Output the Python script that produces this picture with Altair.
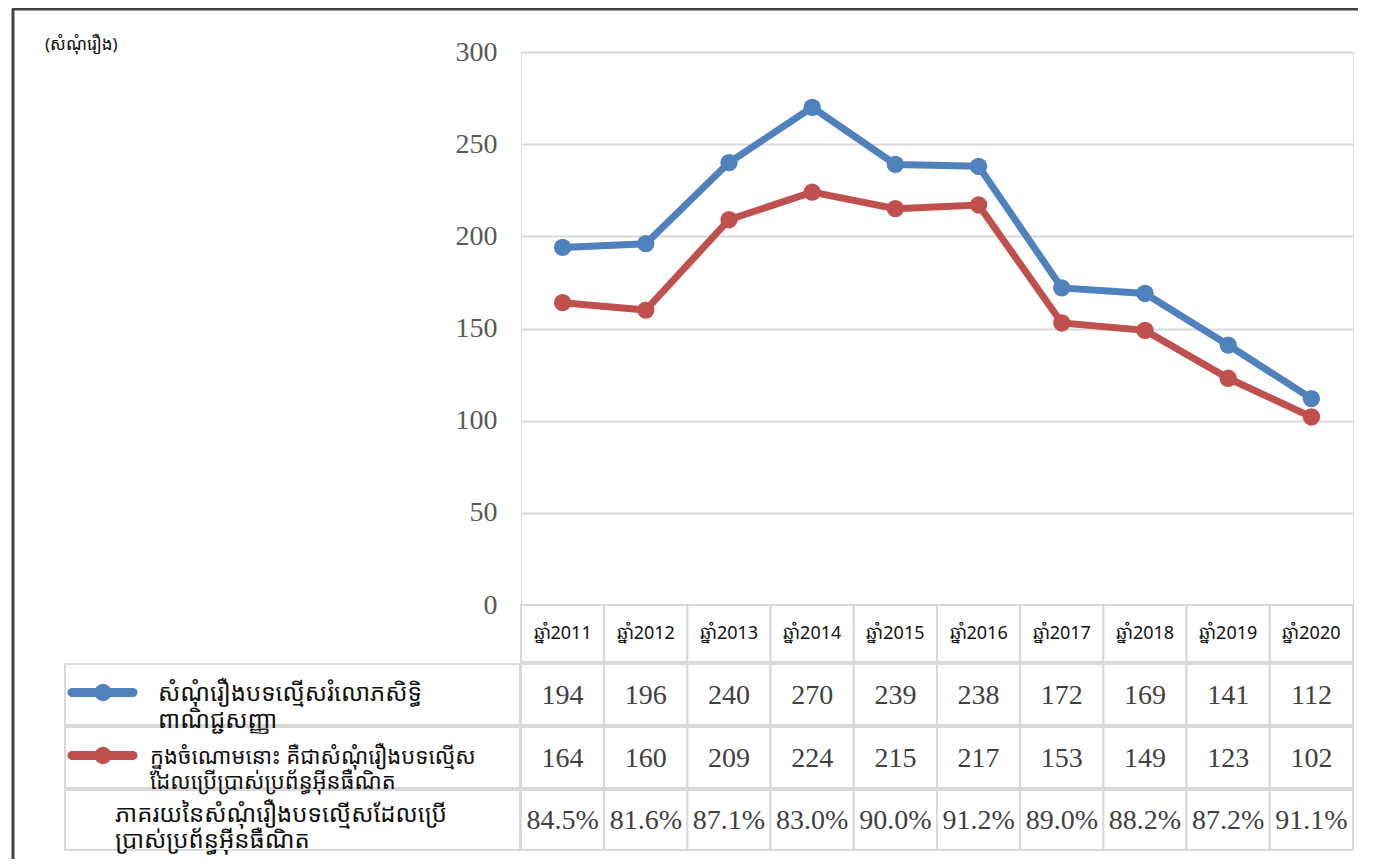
import altair as alt
import pandas as pd

years = ["ឆ្នាំ2011", "ឆ្នាំ2012", "ឆ្នាំ2013", "ឆ្នាំ2014", "ឆ្នាំ2015",
         "ឆ្នាំ2016", "ឆ្នាំ2017", "ឆ្នាំ2018", "ឆ្នាំ2019", "ឆ្នាំ2020"]
cases = [194, 196, 240, 270, 239, 238, 172, 169, 141, 112]
internet = [164, 160, 209, 224, 215, 217, 153, 149, 123, 102]
pct = ["84.5%", "81.6%", "87.1%", "83.0%", "90.0%", "91.2%", "89.0%", "88.2%", "87.2%", "91.1%"]

series1 = ["សំណុំរឿងបទល្មើសរំលោភសិទ្ធិ", "ពាណិជ្ជសញ្ញា"]
series2 = ["ក្នុងចំណោមនោះ គឺជាសំណុំរឿងបទល្មើស", "ដែលប្រើប្រាស់ប្រព័ន្ធអ៊ីនធឺណិត"]
row3 = ["ភាគរយនៃសំណុំរឿងបទល្មើសដែលប្រើ", "ប្រាស់ប្រព័ន្ធអ៊ីនធឺណិត"]
unit = "(សំណុំរឿង)"

BLUE = "#4f81bd"
RED = "#c0504d"
BORDER = "#d9d9d9"
KFONT = "Noto Sans Khmer, Khmer OS, Noto Sans, DejaVu Sans, sans-serif"
SERIF = "Liberation Serif"

df = pd.DataFrame({"year": years, "cases": cases, "internet": internet, "pct": pct})
one = alt.InlineData(values=[{"k": 1}])

xs = alt.X("year:N", sort=years, scale=alt.Scale(type="band", domain=years, paddingInner=0, paddingOuter=0), axis=None)

base = alt.Chart(df)

line1 = base.mark_line(color=BLUE, strokeWidth=7).encode(
    x=xs,
    y=alt.Y("cases:Q", scale=alt.Scale(domain=[0, 300], nice=False),
            axis=alt.Axis(values=[0, 50, 100, 150, 200, 250, 300], grid=True, gridColor=BORDER, gridWidth=2,
                          domain=False, ticks=False, labelFont=SERIF, labelFontSize=28, labelColor="#595959",
                          labelPadding=24, title=None)))
pts1 = base.mark_point(filled=True, color=BLUE, size=300, opacity=1).encode(x=xs, y="cases:Q")
line2 = base.mark_line(color=RED, strokeWidth=7).encode(x=xs, y="internet:Q")
pts2 = base.mark_point(filled=True, color=RED, size=300, opacity=1).encode(x=xs, y="internet:Q")

# table rows: (y top, y bottom)
rows = [(553, 610), (612, 673), (675, 736), (738, 798)]

layers = [line1, line2, pts1, pts2]

# year header cells
layers.append(base.mark_rect(fill="white", stroke=BORDER, strokeWidth=2).encode(
    x=xs, y=alt.value(rows[0][0]), y2=alt.value(rows[0][1])))
layers.append(base.mark_text(font="Noto Sans, DejaVu Sans, sans-serif", fontSize=18, color="#111111").encode(
    x=xs, y=alt.value((rows[0][0] + rows[0][1]) / 2), text="year:N"))

# data cells
for (top, bot), field in zip(rows[1:], ["cases", "internet", "pct"]):
    layers.append(base.mark_rect(fill="white", stroke=BORDER, strokeWidth=2).encode(
        x=xs, y=alt.value(top), y2=alt.value(bot)))
    layers.append(base.mark_text(font=SERIF, fontSize=28, color="#404040").encode(
        x=xs, y=alt.value((top + bot) / 2 + 1), text=f"{field}:N"))
    layers.append(alt.Chart(one).mark_rect(fill="white", stroke=BORDER, strokeWidth=2).encode(
        x=alt.value(-456), x2=alt.value(-1), y=alt.value(top), y2=alt.value(bot)))

# row headers
for (top, bot), txt, xoff, fs, lh, dy in zip(rows[1:], [series1, series2, row3], [-363, -371, -406],
                                             [24, 22, 24], [27, 25, 26], [-1, -1, -5]):
    layers.append(alt.Chart(one).mark_text(text=txt, font=KFONT, fontSize=fs, align="left",
                                           baseline="middle", lineHeight=lh, color="#111111").encode(
        x=alt.value(xoff), y=alt.value((top + bot) / 2 + dy)))

# legend symbols
for (top, bot), col in zip(rows[1:3], [BLUE, RED]):
    yc = (top + bot) / 2 - 2
    layers.append(alt.Chart(one).mark_rule(color=col, strokeWidth=9, strokeCap="round").encode(
        x=alt.value(-449), x2=alt.value(-388), y=alt.value(yc)))
    layers.append(alt.Chart(one).mark_point(filled=True, color=col, size=300, opacity=1).encode(
        x=alt.value(-418), y=alt.value(yc)))

# unit label
layers.append(alt.Chart(one).mark_text(text=unit, font=KFONT, fontSize=17, align="left", color="#111111").encode(
    x=alt.value(-476), y=alt.value(-7)))

# outer frame
layers.append(alt.Chart(one).mark_rule(color="#444444", strokeWidth=3).encode(
    x=alt.value(-508), y=alt.value(-43), y2=alt.value(820)))
layers.append(alt.Chart(one).mark_rule(color="#444444", strokeWidth=3).encode(
    x=alt.value(-509), x2=alt.value(840), y=alt.value(-43)))

chart = alt.layer(*layers).properties(
    width=832, height=553,
    autosize=alt.AutoSizeParams(type="none"),
    padding={"left": 513, "top": 44, "right": 5, "bottom": 254},
).configure_view(stroke=None).configure(background="white")

chart.save("out.html", embed_options={"renderer": "svg", "actions": False})
